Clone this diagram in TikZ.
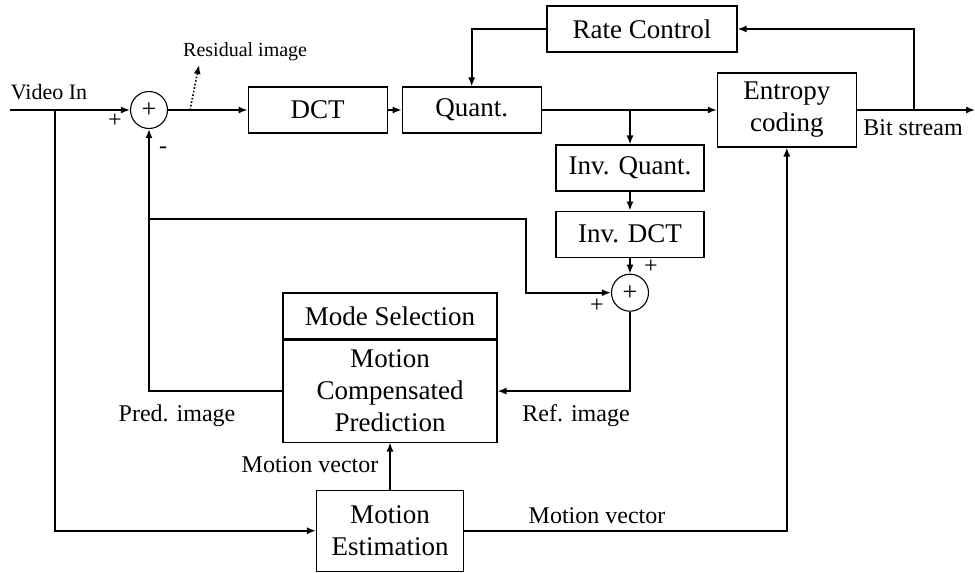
\documentclass[tikz,border=0pt]{standalone}
\usepackage{fontspec}
\setmainfont{Liberation Serif}
\usetikzlibrary{positioning,arrows.meta}

\tikzset{
  blk/.style={draw, line width=1.1pt, minimum width=139pt, minimum height=46pt,
    inner sep=2pt, align=center, font=\fontsize{27}{32}\selectfont},
  sum/.style={draw, circle, line width=1.1pt, minimum size=37pt, inner sep=0pt,
    font=\fontsize{26}{26}\selectfont},
  lbl/.style={inner sep=0pt, font=\fontsize{24}{28}\selectfont},
  sgn/.style={inner sep=0pt, font=\fontsize{24}{24}\selectfont},
  wire/.style={line width=1.6pt, -{Latex[length=9pt,width=7pt]}},
}

\begin{document}
\begin{tikzpicture}[x=1pt, y=-1pt]
  \useasboundingbox (0,0) rectangle (975,573);

  \node[sum] (sA) at (149,110) {+};
  \node[blk, right = 79.5pt of sA] (dct) {DCT};
  \node[blk, right = 14pt of dct] (quant) {Quant.};
  \node[blk, right = 175pt of quant, minimum height=74pt] (ent) {Entropy\\coding};
  \node[blk, minimum width=190pt] (rate) at (642,29) {Rate Control};
  \node[blk, minimum width=148pt] (iq) at (630,168) {Inv. Quant.};
  \node[blk, minimum width=148pt, below = 19pt of iq] (idct) {Inv. DCT};
  \node[sum, below = 16pt of idct] (sB) {+};
  \node[blk, minimum width=214pt] (mode) at (390,316) {Mode Selection};
  \node[blk, minimum width=214pt, minimum height=102pt, anchor=north] (mcp)
    at (mode.south) {Motion\\Compensated\\Prediction};
  \node[blk, minimum width=147pt, minimum height=81pt, below = 47pt of mcp] (me)
    {Motion\\Estimation};

  \coordinate (in) at (10,110);
  \coordinate (jin) at (55,110);
  \coordinate (res0) at (190,110);
  \coordinate (res1) at (199,65);
  \coordinate (jq) at (iq.north |- quant.east);
  \coordinate (jbs) at (914,110);
  \coordinate (out) at (975,110);
  \coordinate (jfb) at (149,219);
  \coordinate (cfb) at (526,219);

  \draw[wire] (in) -- (sA);
  \draw[wire] (jin) |- (me);
  \draw[wire] (sA) -- (dct);
  \draw[wire, dotted] (res0) -- (res1);
  \draw[wire] (dct) -- (quant);
  \draw[wire] (quant) -- (ent);
  \draw[wire] (jq) -- (iq);
  \draw[wire] (iq) -- (idct);
  \draw[wire] (idct) -- (sB);
  \draw[wire] (ent) -- (out);
  \draw[wire] (jbs) |- (rate);
  \draw[wire] (rate.west) -| (quant.north);
  \draw[wire] (sB) |- (mcp);
  \draw[wire] (mcp) -| (sA);
  \draw[wire] (jfb) -- (cfb) |- (sB);
  \draw[wire, line width=1.1pt] (me) -- (mcp);
  \draw[wire] (me) -| (ent);

  \node[lbl, font=\fontsize{22}{26}\selectfont] (vin) at (49,92) {Video In};
  \node[lbl, font=\fontsize{20}{24}\selectfont, anchor=west] (res) at (183,52) {Residual image};
  \node[lbl] (bits) at (913,128) {Bit stream};
  \node[lbl] (pred) at (177,416) {Pred. image};
  \node[lbl] (ref) at (576,416) {Ref. image};
  \node[lbl] (mvA) at (310,465) {Motion vector};
  \node[lbl] (mvB) at (597,516) {Motion vector};

  \node[sgn] (pA) at (115,121) {+};
  \node[sgn] (mA) at (163,150) {-};
  \node[sgn] (pB) at (651,267) {+};
  \node[sgn] (qB) at (597,306) {+};
\end{tikzpicture}
\end{document}
